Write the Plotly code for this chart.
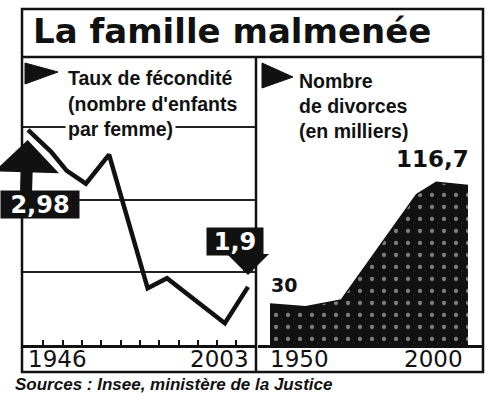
import plotly.graph_objects as go

# ---- data ----
fert_years = [1946, 1952, 1956, 1961, 1967, 1977, 1982, 1997, 2003]
fert_values = [2.98, 2.83, 2.70, 2.61, 2.81, 1.89, 1.96, 1.65, 1.90]
fert_ticks = [1950, 1955, 1960, 1965, 1970, 1975, 1980, 1985, 1990, 1995, 2000]
fert_grid = [2.0, 2.5, 3.0]

div_years = [1950, 1959, 1968, 1987, 1992, 2000]
div_values = [30, 28, 33, 110, 119, 116.7]

title = "La famille malmenée"
left_sub = ["Taux de fécondité", "(nombre d'enfants", "par femme)"]
right_sub = ["Nombre", "de divorces", "(en milliers)"]
left_labels = ["1946", "2003"]
right_labels = ["1950", "2000"]
source = "Sources : Insee, ministère de la Justice"

W, H = 500, 400
def px(x):
    return x / W
def py(y):
    return 1 - y / H

SANS = "Liberation Sans, Arial, sans-serif"
DV = "DejaVu Sans"

fig = go.Figure()

fig.add_trace(go.Scatter(
    x=fert_years, y=fert_values, mode="lines",
    line=dict(color="#111", width=4.5), xaxis="x", yaxis="y",
    showlegend=False, hoverinfo="skip"))

fig.add_trace(go.Scatter(
    x=div_years, y=div_values, mode="lines", fill="tozeroy",
    line=dict(color="#111", width=1.5), fillcolor="#111",
    fillpattern=dict(shape=".", bgcolor="#111", fgcolor="#eee",
                     size=12, solidity=0.1),
    xaxis="x2", yaxis="y2", showlegend=False, hoverinfo="skip"))

ydom = [py(345), py(57)]
fig.update_layout(
    width=W, height=H, margin=dict(l=0, r=0, t=0, b=0),
    paper_bgcolor="white", plot_bgcolor="rgba(0,0,0,0)",
    xaxis=dict(domain=[px(22), px(255)], range=[1944.45, 2004.81],
               showgrid=False, zeroline=False, showline=True,
               linecolor="#111", linewidth=2.5, ticks="inside",
               tickvals=fert_ticks, ticklen=5, tickwidth=2,
               tickcolor="#111", showticklabels=False),
    yaxis=dict(domain=ydom, range=[1.5, 3.482], tickvals=fert_grid,
               showgrid=True, gridcolor="#222", gridwidth=1.6,
               zeroline=False, showticklabels=False, ticks=""),
    xaxis2=dict(domain=[px(258), px(482)], range=[1946.97, 2003.54],
                showgrid=False, zeroline=False, showline=True,
                linecolor="#111", linewidth=2.5, showticklabels=False,
                ticks="", anchor="y2"),
    yaxis2=dict(domain=ydom, range=[0, 210.7], showgrid=False,
                zeroline=False, showticklabels=False, ticks="",
                anchor="x2"),
)

frame = dict(color="#111", width=2.5)
fig.add_shape(type="rect", xref="paper", yref="paper",
              x0=px(22), x1=px(483), y0=py(372), y1=py(9), line=frame)
fig.add_shape(type="line", xref="paper", yref="paper",
              x0=px(22), x1=px(483), y0=py(57), y1=py(57), line=frame)
fig.add_shape(type="line", xref="paper", yref="paper",
              x0=px(256), x1=px(256), y0=py(372), y1=py(57), line=frame)
# pennant flags
fig.add_shape(type="path", xref="paper", yref="paper",
              path=f"M {px(25)},{py(63)} L {px(25)},{py(84)} L {px(58)},{py(72)} Z",
              fillcolor="#111", line=dict(color="#111", width=1))
fig.add_shape(type="path", xref="paper", yref="paper",
              path=f"M {px(262)},{py(63)} L {px(262)},{py(88)} L {px(293)},{py(77)} Z",
              fillcolor="#111", line=dict(color="#111", width=1))

ann = []
ann.append(dict(text=title, x=px(31), y=py(31), xref="paper", yref="paper",
                xanchor="left", yanchor="middle", showarrow=False,
                font=dict(family=DV, size=34, color="#111", weight="bold")))
for i, (t, yy) in enumerate(zip(left_sub, [78, 104, 129])):
    ann.append(dict(text=t, x=px(65), y=py(yy), xref="paper", yref="paper",
                    xanchor="left", yanchor="middle", showarrow=False,
                    bgcolor="white" if i == 2 else None, borderpad=2,
                    font=dict(family=SANS, size=19.5, color="#111", weight="bold")))
for t, yy in zip(right_sub, [81, 106, 131]):
    ann.append(dict(text=t, x=px(297), y=py(yy), xref="paper", yref="paper",
                    xanchor="left", yanchor="middle", showarrow=False,
                    font=dict(family=SANS, size=19.5, color="#111", weight="bold")))
# corner year labels
for t, xx, anc in [(left_labels[0], 26, "left"), (left_labels[1], 251, "right"),
                   (right_labels[0], 268, "left"), (right_labels[1], 465, "right")]:
    ann.append(dict(text=t, x=px(xx), y=py(359), xref="paper", yref="paper",
                    xanchor=anc, yanchor="middle", showarrow=False,
                    font=dict(family=DV, size=23, color="#111")))

def fr(v):
    return f"{v:g}".replace(".", ",")

# value labels on the divorce area
ann.append(dict(text=fr(div_values[-1]), x=div_years[-1], y=div_values[-1],
                xref="x2", yref="y2", xanchor="right", yanchor="bottom",
                xshift=3, yshift=11, showarrow=False,
                font=dict(family=DV, size=23, color="#111", weight="bold")))
ann.append(dict(text=fr(div_values[0]), x=div_years[0], y=div_values[0],
                xref="x2", yref="y2", xanchor="left", yanchor="bottom",
                xshift=-1, yshift=6, showarrow=False,
                font=dict(family=DV, size=19, color="#111", weight="bold")))

# arrows for fertility start / end values
ann.append(dict(text="", x=fert_years[0], y=fert_values[0], xref="x", yref="y",
                ax=-2, ay=64, showarrow=True, arrowhead=1, arrowwidth=12,
                arrowsize=0.9, standoff=10, arrowcolor="#111"))
ann.append(dict(text=fr(fert_values[0]), x=px(40), y=py(204.5), xref="paper",
                yref="paper", xanchor="center", yanchor="middle",
                showarrow=False, bgcolor="#111", width=76, height=25,
                font=dict(family=DV, size=24, color="white", weight="bold")))
ann.append(dict(text="", x=fert_years[-1], y=fert_values[-1], xref="x", yref="y",
                ax=0, ay=-36, showarrow=True, arrowhead=1, arrowwidth=10,
                arrowsize=0.7, standoff=12, arrowcolor="#111"))
ann.append(dict(text=fr(fert_values[-1]), x=px(235), y=py(241.5), xref="paper",
                yref="paper", xanchor="center", yanchor="middle",
                showarrow=False, bgcolor="#111", width=54, height=25,
                font=dict(family=DV, size=24, color="white", weight="bold")))

ann.append(dict(text=source, x=px(13), y=py(384), xref="paper", yref="paper",
                xanchor="left", yanchor="middle", showarrow=False,
                font=dict(family=SANS, size=17, color="#111", weight="bold",
                          style="italic")))

fig.update_layout(annotations=ann)
fig.write_html("out.html", config={"displayModeBar": False},
               post_script="document.body.style.margin='0';")
